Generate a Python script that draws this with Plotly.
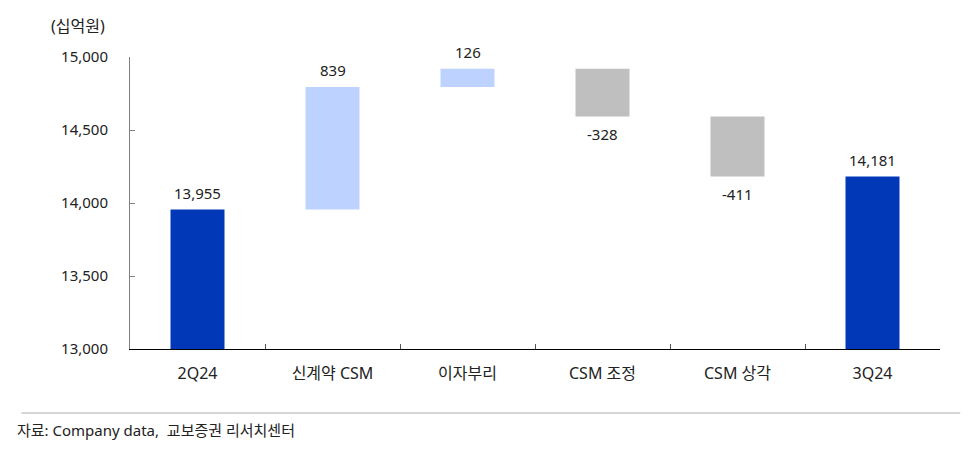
import plotly.graph_objects as go

# CSM 변동 (십억원)
categories = ['2Q24', '신계약 CSM', '이자부리', 'CSM 조정', 'CSM 상각', '3Q24']
values = [13955, 839, 126, -328, -411, 14181]
measures = ['absolute', 'relative', 'relative', 'relative', 'relative', 'total']

FONT = 'Noto Sans, Noto Sans CJK KR'
TXT = '#222222'

fig = go.Figure()

fig.add_trace(go.Waterfall(
    x=categories,
    y=values,
    measure=measures,
    width=0.4,
    connector=dict(visible=False),
    increasing=dict(marker=dict(color='#BDD2FF')),
    decreasing=dict(marker=dict(color='#BFBFBF')),
    totals=dict(marker=dict(color='#0038B8')),
    showlegend=False,
))

# value labels: above rising/total bars, below falling ones
labels = []
level = 0
for cat, v, m in zip(categories, values, measures):
    if m == 'absolute':
        level = v
        top = v
    elif m == 'total':
        top = level
    else:
        level += v
        top = level if v > 0 else level
    up = v > 0
    labels.append(dict(
        x=cat, y=top, text=f'{v:,}', showarrow=False,
        yanchor='bottom' if up else 'top', yshift=5 if up else -5,
        font=dict(size=15, color=TXT, family=FONT),
    ))

fig.update_yaxes(
    range=[13000, 15000],
    dtick=500,
    tickformat=',',
    showgrid=False,
    zeroline=False,
    showline=True,
    linecolor='#7f7f7f',
    linewidth=1,
    ticks='inside',
    ticklen=5,
    tickcolor='#7f7f7f',
    ticklabelstandoff=18,
    tickfont=dict(size=15, color=TXT, family=FONT),
)
fig.update_xaxes(
    showgrid=False,
    showline=True,
    linecolor='black',
    linewidth=1,
    ticks='inside',
    tickson='boundaries',
    ticklen=5,
    tickcolor='#555555',
    ticklabelstandoff=10,
    tickfont=dict(size=16, color=TXT, family=FONT),
)

# page body adds an 8px offset, margins compensate for it
fig.update_layout(
    width=970,
    height=452,
    margin=dict(l=122, r=38, t=49, b=111),
    plot_bgcolor='white',
    paper_bgcolor='white',
    font=dict(family=FONT),
    annotations=labels + [
        dict(text='(십억원)', xref='paper', yref='paper', x=-0.028, y=1.06,
             xanchor='right', yanchor='bottom', showarrow=False,
             font=dict(size=16, color=TXT, family=FONT)),
        dict(text='자료: Company data,  교보증권 리서치센터', xref='paper', yref='paper',
             x=-0.142, y=-0.235, xanchor='left', yanchor='top', showarrow=False,
             font=dict(size=15, color=TXT, family=FONT)),
    ],
    shapes=[
        dict(type='line', xref='paper', yref='paper', x0=-0.134, x1=1.025,
             y0=-0.219, y1=-0.219, line=dict(color='#c8c8c8', width=1.5)),
    ],
)

fig.write_html('out.html')
